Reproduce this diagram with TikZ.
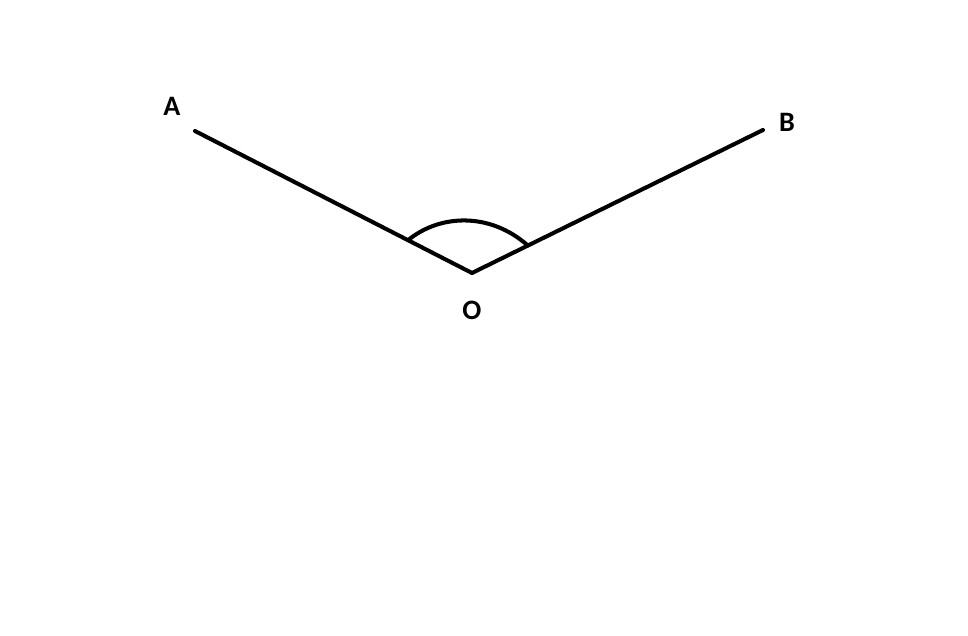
\documentclass[tikz,border=0pt]{standalone}
\usepackage{fontspec}
\setmainfont{Carlito}
\usetikzlibrary{calc,positioning}

\begin{document}
\begin{tikzpicture}[x=0.02cm, y=-0.02cm, leg/.style = {line width=2.3pt, line cap=round}, lbl/.style = {inner sep=0pt, font=\fontsize{16}{19}\selectfont\bfseries}]
		\useasboundingbox (0,0) rectangle (968,636);

		% points
		\coordinate (O) at (472,273);
		\coordinate (A) at (195,131);
		\coordinate (B) at (763,130);

		% labels
		\node[lbl] (labA) at (172,106) {A};
		\node[lbl] (labB) at (787,122) {B};
		\node[lbl] (labO) at (472,310) {O};

		% legs
		\draw [leg] (A) -- (O);
		\draw [leg] (O) -- (B);

		% angle mark
		\coordinate (arcA) at ($(O)!0.231!(A)$);
		\coordinate (arcB) at ($(O)!0.192!(B)$);
		\draw [leg] (arcA) .. controls (440,214) and (490,212) .. (arcB);

	\end{tikzpicture}
\end{document}
